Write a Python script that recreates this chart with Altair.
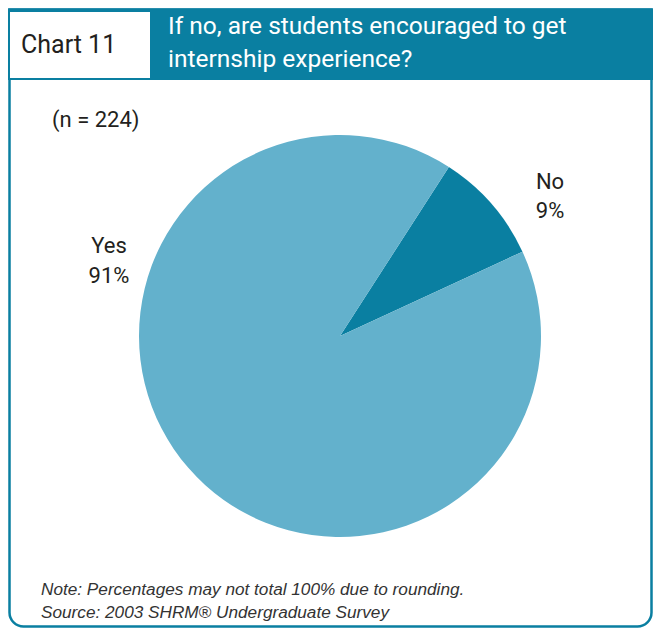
import math
import altair as alt
import pandas as pd

# ---- data ----
categories = ["No", "Yes"]
percents = [9, 91]
pct_labels = ["9%", "91%"]
slice_order = [0, 1]
colors = ["#0a7fa1", "#63b1cc"]

chart_tag = "Chart 11"
title_lines = ["If no, are students encouraged to get", "internship experience?"]
sample_note = "(n = 224)"
notes = ["Note: Percentages may not total 100% due to rounding.",
         "Source: 2003 SHRM\u00ae Undergraduate Survey"]

W, H = 645, 620
TEAL = "#0a7fa1"
COND = "Roboto"
SANS = "Roboto"
NOTEF = "Liberation Sans"

df = pd.DataFrame({"cat": categories, "pct": percents, "order": slice_order})
one = pd.DataFrame({"a": [0]})

start = math.radians(32.8)

frame = alt.Chart(one).mark_rect(
    fill="white", stroke=TEAL, strokeWidth=2.5,
    cornerRadiusBottomLeft=14, cornerRadiusBottomRight=14,
).encode(x=alt.value(1.5), x2=alt.value(643.5), y=alt.value(1.5), y2=alt.value(618.5))

header = alt.Chart(one).mark_rect(fill=TEAL).encode(
    x=alt.value(0), x2=alt.value(645), y=alt.value(0.5), y2=alt.value(72))

tagbox = alt.Chart(one).mark_rect(fill="white").encode(
    x=alt.value(2), x2=alt.value(142), y=alt.value(4), y2=alt.value(70))

tag = alt.Chart(one).mark_text(
    text=chart_tag, font=COND, fontSize=25, color="#231f20",
    align="left", baseline="alphabetic",
).encode(x=alt.value(13), y=alt.value(45))

title = alt.Chart(one).mark_text(
    text=title_lines, font=SANS, fontSize=24.5, color="white",
    align="left", baseline="alphabetic", lineHeight=33,
).encode(x=alt.value(160), y=alt.value(26))

ntext = alt.Chart(one).mark_text(
    text=sample_note, font=COND, fontSize=22, color="#231f20",
    align="left", baseline="alphabetic",
).encode(x=alt.value(44), y=alt.value(119))

pie = alt.Chart(df).mark_arc(radius=201, stroke=None).encode(
    theta=alt.Theta("pct:Q", stack=True,
                    scale=alt.Scale(range=[start, start + 2 * math.pi])),
    order=alt.Order("order:Q"),
    color=alt.Color("cat:N", scale=alt.Scale(domain=categories, range=colors),
                    legend=None),
    x=alt.value(332), y=alt.value(328),
)

no_lbl = alt.Chart(one).mark_text(
    text=[categories[0], pct_labels[0]], font=COND, fontSize=22,
    color="#231f20", align="center", baseline="alphabetic", lineHeight=29,
).encode(x=alt.value(542), y=alt.value(181))

yes_lbl = alt.Chart(one).mark_text(
    text=[categories[1], pct_labels[1]], font=COND, fontSize=22,
    color="#231f20", align="center", baseline="alphabetic", lineHeight=30,
).encode(x=alt.value(101), y=alt.value(245))

note_txt = alt.Chart(one).mark_text(
    text=notes, font=NOTEF, fontSize=17.2, fontStyle="italic", color="#333333",
    align="left", baseline="alphabetic", lineHeight=23,
).encode(x=alt.value(33), y=alt.value(587))

chart = alt.layer(
    frame, header, tagbox, tag, title, ntext, pie, no_lbl, yes_lbl, note_txt
).properties(
    width=W, height=H, autosize=alt.AutoSizeParams(type="none"), padding=0,
    background="white",
).configure_view(stroke=None)

chart.save("out.html", embed_options={"renderer": "svg", "actions": False})
